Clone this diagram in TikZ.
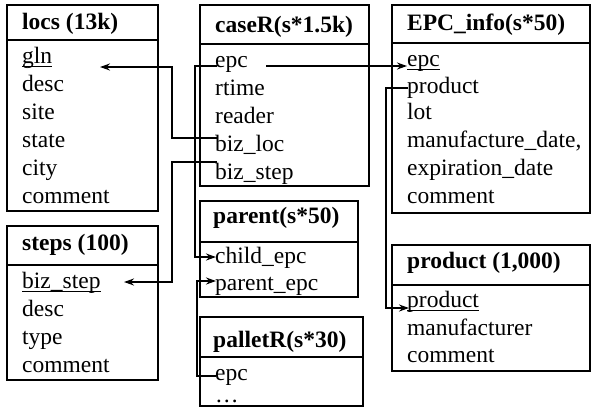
\documentclass[tikz,border=0pt]{standalone}
\usepackage{fontspec}
\setmainfont{Liberation Serif}
\usetikzlibrary{arrows.meta}
% key columns are underlined at a fixed depth below the baseline
\newcommand\keyfield[1]{\setbox0\hbox{#1}\rlap{\rule[-4pt]{\wd0}{1.3pt}}\box0}
\begin{document}
\begin{tikzpicture}[x=1pt,y=-1pt,
  tbl/.style={line width=2pt},
  lbl/.style={anchor=base west, inner sep=0pt, font=\fontsize{23.5}{28}\selectfont},
  hdr/.style={lbl, font=\fontsize{23.5}{28}\selectfont\bfseries},
  link/.style={line width=1.7pt},
  fk/.style={link, -{Stealth[length=10pt,width=7pt]}}]
\useasboundingbox (0,0) rectangle (592,416);

% ---------- table frames ----------
\draw[tbl] (7,5) rectangle (158,211);   \draw[tbl] (7,40) -- (158,40);
\draw[tbl] (200,5) rectangle (369,186); \draw[tbl] (200,44) -- (369,44);
\draw[tbl] (392,5) rectangle (590,213); \draw[tbl] (392,43) -- (590,43);
\draw[tbl] (7,226) rectangle (158,380); \draw[tbl] (7,265) -- (158,265);
\draw[tbl] (200,201) rectangle (358,297); \draw[tbl] (200,242) -- (358,242);
\draw[tbl] (200,317) rectangle (363,406); \draw[tbl] (200,357) -- (363,357);
\draw[tbl] (392,245) rectangle (590,371); \draw[tbl] (392,285) -- (590,285);

% ---------- locs ----------
\node[hdr] (locsH) at (22,29) {locs (13k)};
\node[lbl] (lGln) at (22,63) {\keyfield{gln}};
\node[lbl] (lDesc) at (22,91) {desc};
\node[lbl] (lSite) at (22,119) {site};
\node[lbl] (lState) at (22,147) {state};
\node[lbl] (lCity) at (22,175) {city};
\node[lbl] (lComment) at (22,203) {comment};

% ---------- caseR ----------
\node[hdr] (caseH) at (215,32) {caseR(s*1.5k)};
\node[lbl] (cEpc) at (215,67) {epc};
\node[lbl] (cRtime) at (215,95) {rtime};
\node[lbl] (cReader) at (215,123) {reader};
\node[lbl] (cBizLoc) at (215,151) {biz\_loc};
\node[lbl] (cBizStep) at (215,179) {biz\_step};

% ---------- EPC_info ----------
\node[hdr] (epcH) at (407,30) {EPC\_info(s*50)};
\node[lbl] (eEpc) at (407,66) {\keyfield{epc}};
\node[lbl] (eProduct) at (407,93) {product};
\node[lbl] (eLot) at (407,119) {lot};
\node[lbl] (eMfg) at (407,147) {manufacture\_date,};
\node[lbl] (eExp) at (407,175) {expiration\_date};
\node[lbl] (eComment) at (407,203) {comment};

% ---------- steps ----------
\node[hdr] (stepsH) at (22,250) {steps (100)};
\node[lbl] (sBizStep) at (22,288) {\keyfield{biz\_step}};
\node[lbl] (sDesc) at (22,316) {desc};
\node[lbl] (sType) at (22,344) {type};
\node[lbl] (sComment) at (22,372) {comment};

% ---------- parent ----------
\node[hdr] (parH) at (213,223) {parent(s*50)};
\node[lbl] (pChild) at (215,263) {child\_epc};
\node[lbl] (pParent) at (215,290) {parent\_epc};

% ---------- palletR ----------
\node[hdr] (palH) at (213,347) {palletR(s*30)};
\node[lbl] (rEpc) at (215,380) {epc};
\node[lbl] (rMore) at (215,402) {…};

% ---------- product ----------
\node[hdr] (prodH) at (407,268) {product (1,000)};
\node[lbl] (dProduct) at (407,307) {\keyfield{product}};
\node[lbl] (dMaker) at (407,335) {manufacturer};
\node[lbl] (dComment) at (407,362) {comment};

% ---------- connector ends and bends ----------
\coordinate (glnIn) at (100,67);
\coordinate (bizLocOut) at (217,138);
\coordinate (locBend) at (172,67);
\coordinate (stepIn) at (124,282);
\coordinate (bizStepOut) at (217,162);
\coordinate (stepBend) at (172,282);
\coordinate (caseEpcOut) at (266,66);
\coordinate (infoEpcIn) at (407,66);
\coordinate (caseEpcLeft) at (217,66);
\coordinate (childBend) at (195,257);
\coordinate (childIn) at (216,257);
\coordinate (palEpcOut) at (216,376);
\coordinate (parentBend) at (197,281);
\coordinate (parentIn) at (216,281);
\coordinate (infoProdOut) at (408,88);
\coordinate (prodBend) at (386,308);
\coordinate (prodIn) at (409,308);

% ---------- references ----------
\draw[fk] (bizLocOut) -| (locBend) -- (glnIn);
\draw[fk] (bizStepOut) -| (stepBend) -- (stepIn);
\draw[fk] (caseEpcOut) -- (infoEpcIn);
\draw[fk] (caseEpcLeft) -| (childBend) -- (childIn);
\draw[fk] (palEpcOut) -| (parentBend) -- (parentIn);
\draw[fk] (infoProdOut) -| (prodBend) -- (prodIn);
\end{tikzpicture}
\end{document}
